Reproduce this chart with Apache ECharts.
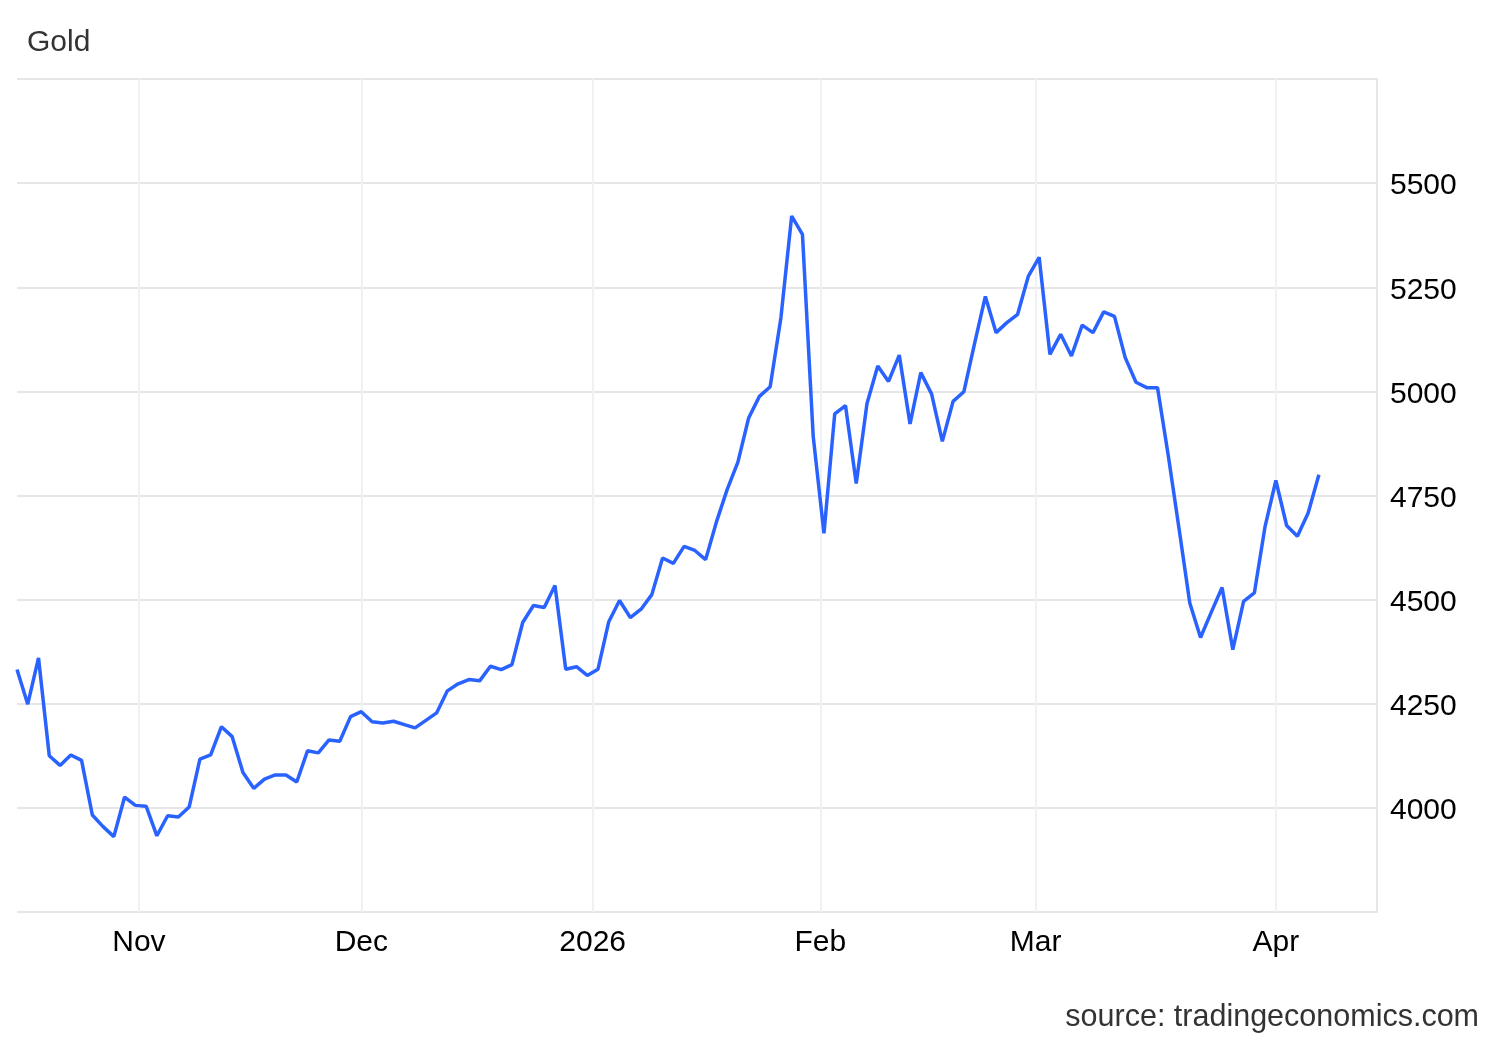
<!DOCTYPE html>
<html>
<head>
<meta charset="utf-8">
<script src="https://cdn.jsdelivr.net/npm/echarts@6/dist/echarts.min.js"></script>
<style>
  html, body { margin: 0; padding: 0; background: #fff; }
  #chart { width: 1500px; height: 1040px; }
</style>
</head>
<body>
<div id="chart"></div>
<script>
// ---- data ----
const title = 'Gold';
const sourceText = 'source: tradingeconomics.com';
const startDate = '2025-10-16';
const holidays = ['2025-12-25', '2026-01-01'];
const monthNames = ['Jan','Feb','Mar','Apr','May','Jun','Jul','Aug','Sep','Oct','Nov','Dec'];
const yTicks = { min: 3750, max: 5750, step: 250 };
const values = [
  4332, 4249, 4360, 4125, 4102, 4127, 4114, 3983, 3955, 3931,
  4026, 4006, 4004, 3933, 3981, 3978, 4002, 4117, 4127, 4195,
  4171, 4085, 4047, 4069, 4079, 4079, 4062, 4137, 4132, 4163,
  4160, 4219, 4231, 4207, 4204, 4208, 4200, 4192, 4210, 4228,
  4281, 4298, 4308, 4305, 4340, 4332, 4344, 4445, 4486, 4481,
  4534, 4333, 4339, 4318, 4333, 4447, 4498, 4457, 4477, 4512,
  4600, 4587, 4628, 4618, 4596, 4686, 4764, 4830, 4936, 4988,
  5011, 5177, 5421, 5377, 4892, 4659, 4946, 4966, 4779, 4971,
  5061, 5024, 5087, 4922, 5045, 4994, 4880, 4976, 4999, 5115,
  5228, 5141, 5165, 5185, 5277, 5322, 5089, 5137, 5085, 5159,
  5141, 5191, 5180, 5081, 5022, 5009, 5009, 4846, 4671, 4492,
  4409, 4470, 4529, 4380, 4496, 4516, 4676, 4786, 4678, 4652,
  4708, 4800
];

// ---- trading-day calendar (ordinal x axis) ----
const DAY = 86400000;
function iso(t) { return new Date(t).toISOString().slice(0, 10); }
const dates = [];
{
  let t = Date.parse(startDate + 'T00:00:00Z');
  while (dates.length < values.length) {
    const d = new Date(t).getUTCDay();
    if (d !== 0 && d !== 6 && holidays.indexOf(iso(t)) < 0) dates.push(t);
    t += DAY;
  }
}
// month boundaries as fractional ordinal positions
const monthTicks = [];
{
  const first = new Date(dates[0]);
  let y = first.getUTCFullYear(), m = first.getUTCMonth() + 1;
  while (true) {
    if (m > 11) { m = 0; y++; }
    const ms = Date.UTC(y, m, 1);
    if (ms > dates[dates.length - 1]) break;
    for (let i = 0; i < dates.length - 1; i++) {
      if (dates[i] < ms && ms <= dates[i + 1]) {
        const pos = i + (ms - dates[i]) / (dates[i + 1] - dates[i]);
        monthTicks.push({ pos: pos, label: m === 0 ? String(y) : monthNames[m] });
        break;
      }
    }
    m++;
  }
}

const FONT = '"Liberation Sans", Arial, Helvetica, sans-serif';
const chart = echarts.init(document.getElementById('chart'), null, { renderer: 'canvas' });
chart.setOption({
  animation: false,
  backgroundColor: '#ffffff',
  title: [
    { text: title, left: 22, top: 23,
      textStyle: { fontFamily: FONT, fontSize: 30, fontWeight: 'normal', color: '#333333' } },
    { text: sourceText, right: 16, top: 997,
      textStyle: { fontFamily: FONT, fontSize: 30.5, fontWeight: 'normal', color: '#333333' } }
  ],
  grid: { left: 17, right: 123, top: 79, bottom: 128, containLabel: false },
  xAxis: {
    type: 'value',
    min: 0,
    max: dates.length - 1 + 5.4,
    axisLine: { show: false },
    axisTick: { show: false, customValues: monthTicks.map(t => t.pos) },
    splitLine: { show: false },
    axisLabel: {
      customValues: monthTicks.map(t => t.pos),
      margin: 16,
      fontFamily: FONT, fontSize: 30, color: '#000000',
      formatter: function (v) {
        let best = monthTicks[0];
        monthTicks.forEach(t => { if (Math.abs(t.pos - v) < Math.abs(best.pos - v)) best = t; });
        return best.label;
      }
    }
  },
  yAxis: {
    type: 'value',
    position: 'right',
    min: yTicks.min, max: yTicks.max, interval: yTicks.step,
    axisLine: { show: true, onZero: false, lineStyle: { color: '#e6e6e6', width: 2 } },
    axisTick: { show: false },
    axisLabel: {
      showMinLabel: false, showMaxLabel: false,
      margin: 13,
      verticalAlign: 'top',
      lineHeight: 6,
      fontFamily: FONT, fontSize: 30, color: '#000000',
      formatter: v => String(v)
    },
    splitLine: { show: true, lineStyle: { color: '#e6e6e6', width: 2 } }
  },
  series: [
    {
      type: 'line', data: [], z: 1, silent: true,
      markLine: {
        silent: true, symbol: ['none', 'none'], z: 1,
        label: { show: false },
        lineStyle: { color: '#eef1f6', width: 2, type: 'solid' },
        emphasis: { disabled: true },
        data: monthTicks.map(t => ({ xAxis: t.pos }))
      }
    },
    {
      name: title,
      type: 'line', z: 3,
      showSymbol: false,
      data: values.map((v, i) => [i, v]),
      lineStyle: { color: '#2962ff', width: 3.5 },
      itemStyle: { color: '#2962ff' }
    }
  ]
});
</script>
</body>
</html>
